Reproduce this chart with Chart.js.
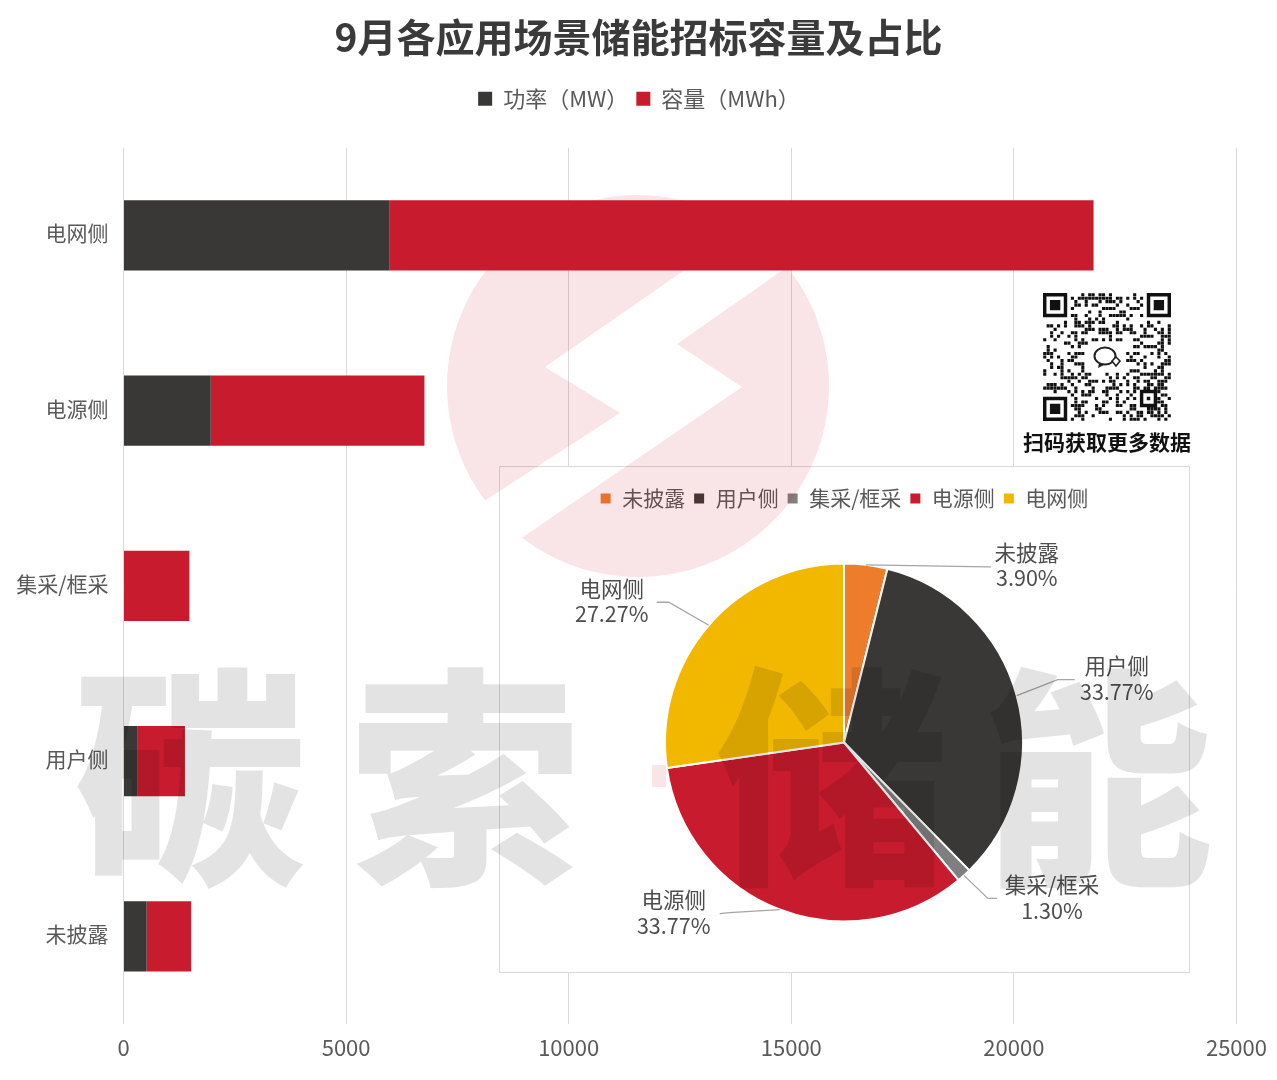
<!DOCTYPE html>
<html><head><meta charset="utf-8">
<script src="https://cdn.jsdelivr.net/npm/chart.js@4"></script>
<style>
html,body{margin:0;padding:0;background:#fff;width:1277px;height:1080px;overflow:hidden}
#wrap{position:relative;width:1277px;height:1080px;font-family:'Noto Sans CJK SC',sans-serif}
#main{position:absolute;left:0;top:0}
#box{position:absolute;left:499px;top:466px;width:689px;height:505px;background:#fff;border:1.5px solid #d9d9d9}
#pie{position:absolute;left:-1.5px;top:-1.5px}
.wm{position:absolute;font-weight:900;font-size:232px;line-height:1;color:rgba(0,0,0,.11);transform:translate(-50%,-50%);pointer-events:none}
#qrcap{position:absolute;left:1107px;top:441px;transform:translate(-50%,-50%);font-size:21px;font-weight:700;color:#111;white-space:nowrap;line-height:1}
svg{position:absolute;left:0;top:0;pointer-events:none}
</style></head><body>
<div id="wrap">
<canvas id="main" width="1277" height="1080"></canvas>
<div id="box"><canvas id="pie" width="690" height="506"></canvas></div>
<svg id="qr" width="1277" height="1080"></svg>
<div id="qrcap">扫码获取更多数据</div>
<svg width="1277" height="1080">
<defs><mask id="bolt" maskUnits="userSpaceOnUse" x="0" y="0" width="1277" height="1080">
<rect x="0" y="0" width="1277" height="1080" fill="#fff"/>
<polygon fill="#000" points="690,150 850,150 850,223 677,344 742,387 523,537 480,566 430,536 620,413 545,367 745,228 690,203"/>
</mask></defs>
<circle cx="638" cy="386" r="191" fill="rgba(200,28,46,.115)" mask="url(#bolt)"/>
<rect x="652" y="765" width="14" height="22" fill="rgba(200,28,46,.115)"/>
</svg>
<div class="wm" style="left:190px;top:765px">碳</div>
<div class="wm" style="left:465px;top:765px">索</div>
<div class="wm" style="left:832px;top:765px">储</div>
<div class="wm" style="left:1097px;top:765px">能</div>
</div>
<script>
const FONT="'Noto Sans CJK SC', sans-serif";
const titleText='9月各应用场景储能招标容量及占比';
const barCategories=['电网侧','电源侧','集采/框采','用户侧','未披露'];
const powerMW=[5980,1960,0,320,520];
const capacityMWh=[15810,4800,1480,1060,1000];
const xTicks=[0,5000,10000,15000,20000,25000];
const pieCategories=['未披露','用户侧','集采/框采','电源侧','电网侧'];
const pieShares=[3.90,33.77,1.30,33.77,27.27];
const pieColors=['#ed7d2b','#3a3836','#7f7f7f','#c81c2e','#f2b800'];
// label placement relative to each slice's outer mid-point: elbow, line end, text centre
const pieLabelOffsets=[
 {elbow:[122,2],end:[125,2],text:[161,0]},
 {elbow:[41,-16],end:[58,-16],text:[100,-17]},
 {elbow:[24,23],end:[33,23],text:[88,22]},
 {elbow:[-50,3],end:[-60,4],text:[-106,3]},
 {elbow:[-40,-23],end:[-52,-23],text:[-97,-24]}
];
const TXT='#595959';

new Chart(document.getElementById('main'),{
 type:'bar',
 data:{labels:barCategories,datasets:[
  {label:'功率（MW）',data:powerMW,backgroundColor:'#3a3836',stack:'s'},
  {label:'容量（MWh）',data:capacityMWh,backgroundColor:'#c81c2e',stack:'s'}]},
 plugins:[{id:'headerBoxes',
  beforeInit(c){const f=c.legend.fit;c.legend.fit=function(){f.call(this);this.height=68;};},
  afterLayout(c){c.titleBlock.left=0;c.titleBlock.right=1277;c.legend.left=1;c.legend.right=1277;}}],
 options:{
  indexAxis:'y',responsive:false,animation:false,
  layout:{padding:{left:0,right:40,top:0,bottom:0}},
  datasets:{bar:{categoryPercentage:1,barPercentage:0.4}},
  plugins:{
   tooltip:{enabled:false},
   title:{display:true,text:titleText,color:'#3a3a3a',font:{family:FONT,size:39,weight:'700'},padding:{top:14,bottom:19}},
   legend:{display:true,position:'top',labels:{boxWidth:14,boxHeight:14,padding:8,color:TXT,font:{family:FONT,size:22}}}
  },
  scales:{
   x:{type:'linear',stacked:true,min:0,max:25000,afterBuildTicks(s){s.ticks=xTicks.map(v=>({value:v}));},
      afterFit(s){s.height=56;},
      grid:{color:'#d9d9d9',drawTicks:false,lineWidth:1},border:{display:false},
      ticks:{padding:10,color:TXT,font:{family:FONT,size:22},maxRotation:0,callback:v=>String(v)}},
   y:{stacked:true,afterFit(s){s.width=123.5;},grid:{display:false,drawTicks:false},border:{display:false},
      ticks:{padding:15,labelOffset:-2,color:TXT,font:{family:FONT,size:21}}}
  }
 }
});

const pieLabels={id:'pieLabels',afterDatasetsDraw(c){
 const g=c.ctx,arcs=c.getDatasetMeta(0).data;
 arcs.forEach((a,i)=>{
  const m=(a.startAngle+a.endAngle)/2,x=a.x+Math.cos(m)*a.outerRadius,y=a.y+Math.sin(m)*a.outerRadius,o=pieLabelOffsets[i];
  g.save();g.strokeStyle='#a6a6a6';g.lineWidth=1.3;g.beginPath();g.moveTo(x,y);
  g.lineTo(x+o.elbow[0],y+o.elbow[1]);g.lineTo(x+o.end[0],y+o.end[1]);g.stroke();
  g.fillStyle='#4d4d4d';g.font="21.5px "+FONT;g.textAlign='center';g.textBaseline='middle';
  g.fillText(pieCategories[i],x+o.text[0],y+o.text[1]-12.5);
  g.fillText(pieShares[i].toFixed(2)+'%',x+o.text[0],y+o.text[1]+13);
  g.restore();
 });
}};
new Chart(document.getElementById('pie'),{
 type:'pie',
 data:{labels:pieCategories,datasets:[{data:pieShares,backgroundColor:pieColors,borderColor:'#fff',borderWidth:2,radius:179}]},
 plugins:[pieLabels],
 options:{
  responsive:false,animation:false,
  layout:{padding:{top:14,bottom:6,left:0,right:0}},
  plugins:{tooltip:{enabled:false},title:{display:false},
   legend:{display:true,position:'top',labels:{boxWidth:12,boxHeight:12,padding:8,color:TXT,font:{family:FONT,size:21}}}}
 }
});

// decorative QR-style block (not a working code)
(function(){
 const N=37,X0=1043,Y0=293,M=128/37;let s=0x2F6E2B1,d='';
 const rect=(c,r,w,h)=>{d+=`M${X0+c*M},${Y0+r*M}h${w*M}v${h*M}h${-w*M}z`;};
 const inFinder=(c,r)=>(c<8&&r<8)||(c>N-9&&r<8)||(c<8&&r>N-9);
 for(let r=0;r<N;r++)for(let c=0;c<N;c++){
  s=(s*1103515245+12345)&0x7fffffff;
  const bit=((s>>>16)&7)<3;
  if(inFinder(c,r)||(c>=28&&c<=32&&r>=28&&r<=32)||(c>=13&&c<=23&&r>=14&&r<=22))continue;
  if(bit)rect(c+.05,r+.05,.9,.9);
 }
 const finder=(c,r)=>{rect(c,r,7,1);rect(c,r+6,7,1);rect(c,r+1,1,5);rect(c+6,r+1,1,5);rect(c+2,r+2,3,3);};
 finder(0,0);finder(N-7,0);finder(0,N-7);
 rect(28,28,5,1);rect(28,32,5,1);rect(28,29,1,3);rect(32,29,1,3);rect(30,30,1,1);
 document.getElementById('qr').innerHTML=`<path d="${d}" fill="#111"/>
 <ellipse cx="1105" cy="356" rx="10.5" ry="8.5" fill="#fff" stroke="#222" stroke-width="2"/>
 <path d="M1099,363l-1,5l6,-3z" fill="#222"/>
 <path d="M1116,357l4,4l-4,5l-4,-5z" fill="#fff" stroke="#222" stroke-width="1.6"/>`;
})();
</script>
</body></html>
